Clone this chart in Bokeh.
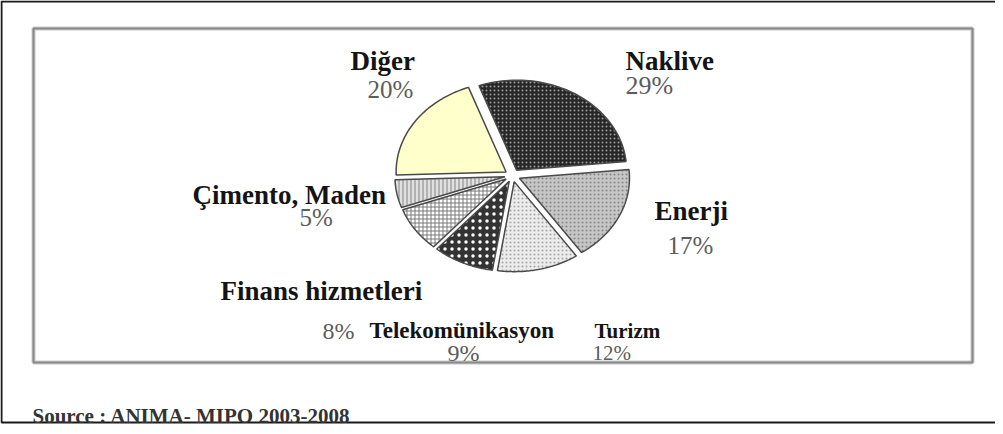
import numpy as np
from bokeh.plotting import figure
from bokeh.models import Range1d, ColumnDataSource
from bokeh.core.properties import value
from bokeh.embed import file_html
from bokeh.resources import INLINE

# ---- data ----
categories = ["Naklive", "Enerji", "Turizm", "Telekomünikasyon",
              "Finans hizmetleri", "Çimento, Maden", "Diğer"]
shares = [29, 17, 12, 9, 8, 5, 20]
source_note = "Source : ANIMA- MIPO 2003-2008"

# ---- layout (page pixel coordinates; the figure sits at the 8px body margin) ----
W, H = 995, 426
OFF = 8
CX, CY, RX, RY = 520, 183, 110, 90
EXPLODE = 0.07
START_DEG = 110

fills = ["#262626", "#c6c6c6", "#ececec", "#333333", "#ffffff", "#e0e0e0", "#ffffcc"]
hatches = ["dot", "dot", "dot", "dot", "cross", "vertical_line", " "]
hatch_colors = ["#9a9a9a", "#858585", "#a5a5a5", "#ffffff", "#777777", "#858585", "#ffffcc"]
hatch_scales = [4, 4, 4, 7, 4, 4, 4]

# label anchors (left x, baseline y, font px) for name and percent
name_pos = [(633, 68, 27), (662, 218, 27), (602, 338, 21), (377, 338, 23),
            (228, 298, 27), (200, 202, 27), (358, 68, 27)]
pct_pos = [(633, 93, 26), (675, 253, 25), (600, 360, 21), (455, 360, 24),
           (330, 338, 24), (307, 225, 25), (375, 97, 25)]

p = figure(width=W, height=H, output_backend="svg", toolbar_location=None,
           x_range=Range1d(OFF, OFF + W), y_range=Range1d(OFF + H, OFF),
           min_border=0, background_fill_color="white")
p.axis.visible = False
p.grid.visible = False
p.outline_line_color = None

# outer frame and inner chart box
p.quad(left=[9], right=[OFF + W + 20], top=[9], bottom=[430], fill_color=None,
       line_color="#1a1a1a", line_width=2)
p.quad(left=[41], right=[980], top=[36], bottom=[370], fill_color=None,
       line_color="#c8c8c8", line_width=4)
p.quad(left=[41], right=[980], top=[36], bottom=[370], fill_color=None,
       line_color="#8a8a8a", line_width=2)

# slices
total = float(sum(shares))
xs, ys = [], []
cum = 0.0
for v in shares:
    a0 = np.deg2rad(START_DEG - cum / total * 360.0)
    a1 = np.deg2rad(START_DEG - (cum + v) / total * 360.0)
    mid = (a0 + a1) / 2
    ox = CX + EXPLODE * RX * np.cos(mid)
    oy = CY - EXPLODE * RY * np.sin(mid)
    t = np.linspace(a0, a1, 60)
    px = np.concatenate([[ox], ox + RX * np.cos(t)])
    py = np.concatenate([[oy], oy - RY * np.sin(t)])
    xs.append(list(px))
    ys.append(list(py))
    cum += v

src = ColumnDataSource(dict(xs=xs, ys=ys, fill=fills, hp=hatches, hc=hatch_colors,
                            hs=hatch_scales, name=categories))
p.patches("xs", "ys", source=src, fill_color="fill", hatch_pattern="hp",
          hatch_color="hc", hatch_scale="hs", hatch_weight=1,
          line_color="#4a4a4a", line_width=1.5)

# labels
for name, (x, y, fs) in zip(categories, name_pos):
    p.text(x=[x], y=[y], text=[name], text_font=value("Liberation Serif"),
           text_font_style="bold", text_font_size=f"{fs}px", text_color="#141414",
           text_baseline="alphabetic", text_align="left")
for v, (x, y, fs) in zip(shares, pct_pos):
    p.text(x=[x], y=[y], text=[f"{v}%"], text_font=value("Liberation Serif"),
           text_font_size=f"{fs}px", text_color="#5c5c5c",
           text_baseline="alphabetic", text_align="left")

p.text(x=[40], y=[423], text=[source_note], text_font=value("Liberation Serif"),
       text_font_style="bold", text_font_size="21px", text_color="#333333",
       text_baseline="alphabetic", text_align="left")

open("out.html", "w").write(file_html(p, INLINE))
